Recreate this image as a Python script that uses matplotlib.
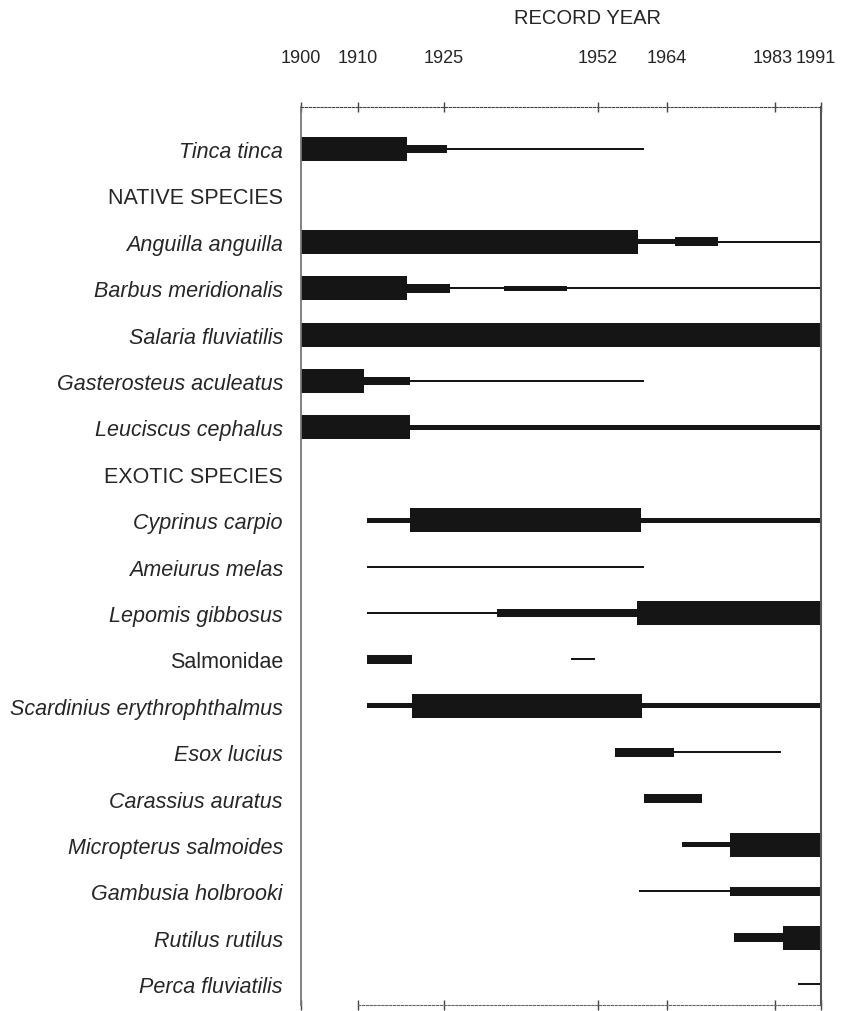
import matplotlib
matplotlib.use('Agg')
import matplotlib.pyplot as plt
from matplotlib.transforms import ScaledTranslation

plt.rcParams['font.family'] = ['Liberation Sans', 'DejaVu Sans']

# rows from top to bottom (group headings sit in their own row)
labels = ['Tinca tinca', 'NATIVE SPECIES', 'Anguilla anguilla',
          'Barbus meridionalis', 'Salaria fluviatilis',
          'Gasterosteus aculeatus', 'Leuciscus cephalus', 'EXOTIC SPECIES',
          'Cyprinus carpio', 'Ameiurus melas', 'Lepomis gibbosus',
          'Salmonidae', 'Scardinius erythrophthalmus', 'Esox lucius',
          'Carassius auratus', 'Micropterus salmoides', 'Gambusia holbrooki',
          'Rutilus rutilus', 'Perca fluviatilis']
upright = ['NATIVE SPECIES', 'EXOTIC SPECIES', 'Salmonidae']

record_years = [1900, 1910, 1925, 1952, 1964, 1983, 1991]

# (from year, to year, abundance class 0..3)
segments = {
    'Tinca tinca': [(1900, 1918.5, 3), (1918.5, 1925.5, 2), (1925.5, 1960, 0)],
    'Anguilla anguilla': [(1900, 1959, 3), (1959, 1965.5, 1), (1965.5, 1973, 2),
                          (1973, 1991, 0)],
    'Barbus meridionalis': [(1900, 1918.5, 3), (1918.5, 1926, 2), (1926, 1935.5, 0),
                            (1935.5, 1946.5, 1), (1946.5, 1991, 0)],
    'Salaria fluviatilis': [(1900, 1991, 3)],
    'Gasterosteus aculeatus': [(1900, 1911, 3), (1911, 1919, 2), (1919, 1960, 0)],
    'Leuciscus cephalus': [(1900, 1919, 3), (1919, 1991, 1)],
    'Cyprinus carpio': [(1911.5, 1919, 1), (1919, 1959.5, 3), (1959.5, 1991, 1)],
    'Ameiurus melas': [(1911.5, 1960, 0)],
    'Lepomis gibbosus': [(1911.5, 1934.3, 0), (1934.3, 1958.8, 2), (1958.8, 1991, 3)],
    'Salmonidae': [(1911.5, 1919.5, 2), (1947.3, 1951.5, 0)],
    'Scardinius erythrophthalmus': [(1911.5, 1919.5, 1), (1919.5, 1959.7, 3),
                                    (1959.7, 1991, 1)],
    'Esox lucius': [(1955, 1965.3, 2), (1965.3, 1984, 0)],
    'Carassius auratus': [(1960, 1970.2, 2)],
    'Micropterus salmoides': [(1966.7, 1975, 1), (1975, 1991, 3)],
    'Gambusia holbrooki': [(1959.2, 1975, 0), (1975, 1991, 2)],
    'Rutilus rutilus': [(1975.7, 1984.4, 2), (1984.4, 1991, 3)],
    'Perca fluviatilis': [(1987, 1991, 0)],
}

bar_height = {0: 0.045, 1: 0.11, 2: 0.19, 3: 0.52}
ink = '#151515'
txt = '#262626'

fig = plt.figure(figsize=(8.42, 10.12), dpi=100)
ax = fig.add_axes([301 / 842, 1 - 1006 / 1012, 520 / 842, 898 / 1012])

for i, name in enumerate(labels):
    for start, end, level in segments.get(name, []):
        ax.barh(i, end - start, left=start, height=bar_height[level],
                color=ink, linewidth=0)

ax.set_xlim(1900, 1991)
ax.set_ylim(18.45, -0.905)

# year axis along the top
ax.xaxis.tick_top()
ax.set_xticks(record_years)
ax.tick_params(axis='x', direction='inout', length=7, width=1, colors='#444',
               labelcolor=txt, labelsize=13, pad=26, bottom=True, labelbottom=False)
# the two last labels are crowded: nudge them apart and inside the page
for lab, dx in zip(ax.get_xticklabels()[-2:], (-3, -5)):
    lab.set_transform(lab.get_transform() + ScaledTranslation(dx / 100, 0, fig.dpi_scale_trans))

ax.set_yticks(range(len(labels)))
ax.set_yticklabels(labels)
ax.tick_params(axis='y', length=0, pad=13, labelsize=15.5, labelcolor=txt)
for lab in ax.get_yticklabels():
    if lab.get_text() not in upright:
        lab.set_fontstyle('italic')

ax.spines['top'].set_linestyle((0, (2, 1.5)))
ax.spines['top'].set_color('#444')
ax.spines['bottom'].set_linestyle((0, (2, 1.5)))
ax.spines['bottom'].set_color('#666')
ax.spines['bottom'].set_bounds(1910, 1991)
ax.spines['left'].set_color('#777')
ax.spines['left'].set_linewidth(1.3)
ax.spines['right'].set_color('#555')
ax.spines['right'].set_linewidth(1.5)

fig.text(588 / 842, 1 - 19 / 1012, 'RECORD YEAR', ha='center', va='center',
         fontsize=14.5, color=txt)

fig.savefig('out.png', dpi=100, facecolor='white')
